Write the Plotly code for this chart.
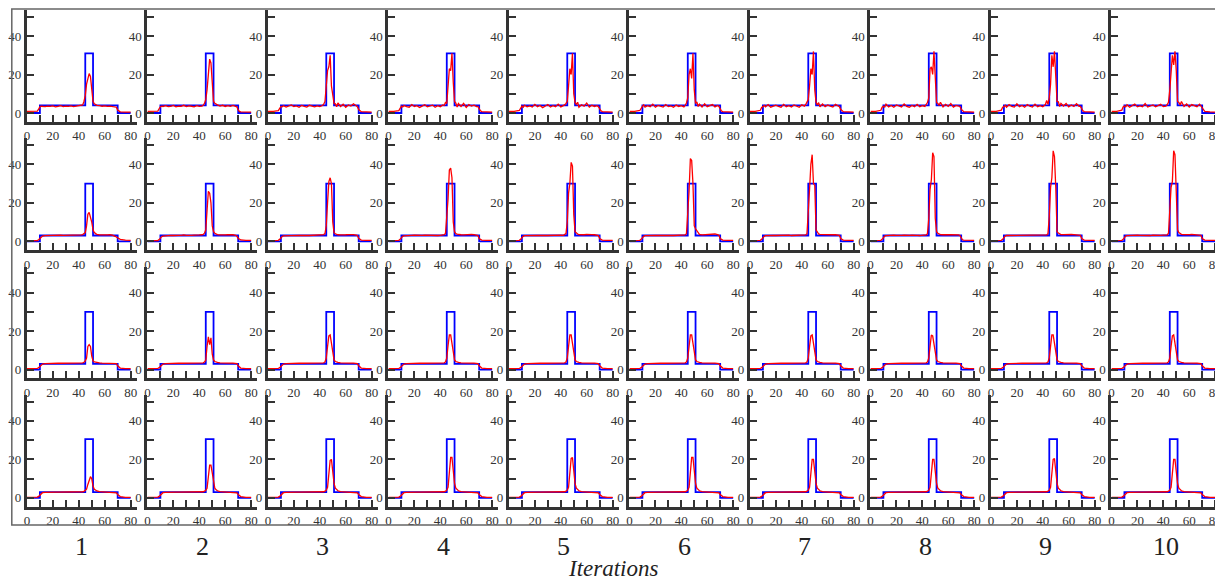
import plotly.graph_objects as go

# ---------------- data ----------------
X_RED = [0, 4, 8, 9, 10, 11, 12, 14, 16, 18, 20, 22, 24, 26, 28, 30, 32, 34, 36, 38, 40, 42, 43,
         44, 45, 46, 47, 48, 49, 50, 51, 52, 53, 54, 56, 58, 60, 62, 64, 66, 68, 69, 70, 71, 72, 76, 80]

BLUE_X = [0, 10, 10, 45, 45, 51, 51, 70, 70, 80]
BLUE_BASE = [4, 3, 3, 3]
BLUE_TOP = [31, 30, 30, 30.5]

RED_ROW1 = [
    [0.8,0.8,1,2,3.2,3.5,3.4,3.3,3.6,3.4,3.7,3.2,3.5,3.8,3.3,3.6,3.4,3.7,3.3,3.5,3.6,3.8,4.2,6,9,15,18,20.5,19,11,6,4.8,4.3,4,3.8,3.5,3.7,3.4,3.6,3.5,3.3,3,1.5,0.8,0.6,0.5,0.5],
    [0.8,0.8,1,2.2,3.3,3.6,3.4,3.8,3.3,3.5,3.9,3.2,3.6,3.4,4,3.3,3.7,3.5,3.2,3.8,3.4,3.6,4,5,7,12,22,28,26,12,6,5,4.5,4.2,3.6,4,3.4,3.8,3.5,3.9,3.4,3.2,1.6,0.8,0.6,0.5,0.5],
    [0.8,0.8,1.2,2.5,3.4,3.2,3.8,3.1,3.6,4.2,3.3,3.7,3,3.9,3.4,3.1,4,3.5,3.2,3.7,3.3,3.9,4.5,6,14,22,24,30,14,8,5,4.8,3.2,5.2,3.4,4.6,3,4.2,3.6,4.8,3.5,3.3,1.8,1,0.7,0.6,0.5],
    [0.8,0.8,1.2,2.6,3.5,3.1,3.9,3.3,3,4.4,3.4,3.8,2.9,3.6,4.3,3.2,3.5,4.1,3,3.8,3.3,4.2,3.9,5.5,5,14,23,22,31,16,6,5.2,3.1,4.9,3.4,5,2.9,4.4,3.6,4.1,3.3,3.4,2,1.1,0.7,0.6,0.5],
    [0.8,0.8,1.3,2.7,3.6,3,4,3.2,3.7,3.1,4.5,3.3,3.9,2.8,3.6,4.4,3.1,3.8,3.3,4.6,3.2,3.7,4.2,5,6,14,23,20,31,10,5.5,4.5,5.6,3,4.3,3.5,5.2,3.1,4,3.4,3.8,3.3,2,1.1,0.7,0.6,0.5],
    [0.8,0.8,1.3,2.8,3.4,4.2,3.1,3.8,3.3,4.6,3,3.9,3.5,3.1,4.4,3.3,3.7,3,4.1,3.4,3.8,3.2,4,5.2,8,20,23,18,31,12,5,5.8,3.4,4.6,3.1,4.8,3.3,3.7,4.4,3.2,3.9,3.4,1.9,1,0.7,0.6,0.5],
    [0.8,0.8,1.4,2.9,3.3,3.9,3.2,4.4,3,3.7,4.1,3.4,3,4.5,3.3,3.8,3.1,4.2,3.5,3,4.3,3.6,4.4,5.5,7,14,23,20,32,12,5.5,4.2,5.4,3.2,4.7,3.3,4.2,3.6,3.1,4.5,3.5,3.3,1.9,1,0.7,0.6,0.5],
    [0.8,0.8,1.4,3,3.5,3.1,4.6,3.2,3.9,3,4.2,3.6,3.1,4.7,3.4,3,3.9,3.3,4.5,3.2,3.8,3.4,4.3,5.4,8,23,24,20,32,14,5.5,5,4,5.6,3.2,4.5,3.4,4.9,3.1,3.9,3.6,3.4,2,1.1,0.7,0.6,0.5],
    [0.8,0.8,1.5,3,3.3,4,3,4.4,3.4,3.1,4.8,3.3,3.9,3,4.4,3.5,3.1,4.6,3.3,3.8,3.2,4.4,6.5,4.5,8,15,30,24,32,14,6,5.8,3.4,5,3.6,4.9,3.2,4.2,3.4,4.8,3.5,3.4,2,1.1,0.7,0.6,0.5],
    [0.8,0.8,1.5,3.1,3.6,3.2,4.3,3,3.8,4.6,3.2,3.7,3.3,4.9,3.1,3.6,4.2,3.2,3.9,4.5,3.3,3.6,4.4,5.5,12,24,30,25,32,22,6,5.5,4.2,6,3.4,4.7,3.1,4.4,3.7,3.3,4.6,3.6,2.2,1.2,0.8,0.6,0.5],
]

RED_ROW2 = [
    [0.3,0.3,0.4,0.8,1.6,2.3,2.7,2.9,3,3,3.1,3,3.1,3.2,3.1,3.1,3,3.1,3.1,3.2,3.2,3.3,3.5,3.8,4.5,8,14,15,13,10,6,4.5,4,3.6,3.3,3.2,3.1,3.3,3.4,3.2,2.6,2.2,1.8,1.3,1,0.6,0.5],
    [0.3,0.3,0.4,0.9,1.8,2.4,2.7,2.9,3,3.1,3,3.2,3.1,3.1,3.3,3.1,3,3.1,3.2,3.1,3.3,3.4,3.6,4.2,6,16,26,25,20,8,5,4.2,3.8,3.5,3.3,3.2,3.3,3.4,3.5,3.4,3.1,2.6,1.6,1,0.7,0.5,0.5],
    [0.3,0.3,0.5,1,2,2.5,2.8,2.9,3,3.1,3,3.2,3.1,3,3.2,3.1,3,3.1,3,3.2,3.1,3.3,3.5,4,8,20,31,33,30,10,4.5,3.9,3.6,3.4,3.3,3.2,3.4,3.5,3.6,3.5,3.2,3,1.5,0.8,0.6,0.5,0.5],
    [0.3,0.3,0.5,1,2,2.6,2.8,3,3,3.1,3.2,3.1,3,3.1,3.2,3.1,3,3.2,3.1,3,3.1,3.2,3.4,4,12,22,37,38,33,10,5,4,3.7,3.5,3.4,3.3,3.5,3.7,3.6,3.5,3.2,3,1.4,0.8,0.6,0.5,0.5],
    [0.3,0.3,0.5,1,2,2.6,2.9,3,3.1,3,3.2,3.1,3,3.2,3.1,3,3.1,3.2,3,3.1,3.2,3.1,3.4,4,10,25,30,41,39,14,5,4.2,3.8,3.5,3.4,3.4,3.6,3.7,3.5,3.4,3.3,3,1.4,0.8,0.6,0.5,0.5],
    [0.3,0.3,0.5,1,2,2.6,2.9,3,3.1,3.2,3.1,3,3.2,3.1,3,3.2,3.1,3,3.1,3.2,3,3.1,3.3,4,14,26,43,42,30,8,6.5,5.5,4,3.6,3.3,3.4,3.5,3.4,3.6,3.8,3.5,3.2,1.4,0.8,0.6,0.5,0.5],
    [0.3,0.3,0.5,1,2,2.6,2.9,3,3.2,3.1,3,3.1,3.2,3,3.1,3.2,3,3.1,3.2,3,3.1,3.2,3.3,4,14,27,40,45,30,29,6,4.5,3.8,3.6,3.5,3.4,3.5,3.5,3.4,3.4,3.3,3.1,1.4,0.8,0.6,0.5,0.5],
    [0.3,0.3,0.5,1,2,2.7,2.9,3.1,3,3.2,3.1,3,3.1,3.2,3,3.1,3.2,3,3.1,3,3.2,3.1,3.3,4,12,27,32,46,44,12,5,4.2,3.7,3.5,3.4,3.3,3.4,3.5,3.5,3.4,3.3,3,1.4,0.8,0.6,0.5,0.5],
    [0.3,0.3,0.5,1,2,2.7,3,3,3.1,3.1,3.2,3,3.1,3.1,3.2,3,3.1,3.2,3.1,3,3.1,3.2,3.3,4,13,28,33,47,44,28,5,4.3,3.8,3.5,3.5,3.6,3.8,3.6,3.5,3.4,3.4,3.1,1.4,0.8,0.6,0.5,0.5],
    [0.3,0.3,0.5,1,2,2.7,3,3.1,3,3.1,3.2,3.1,3,3.2,3.1,3,3.2,3.1,3,3.1,3.2,3.1,3.3,4.2,14,28,31,47,45,26,6,4.5,3.9,3.6,3.5,3.4,3.5,3.6,3.5,3.4,3.3,3.1,1.4,0.8,0.6,0.5,0.5],
]

RED_ROW3 = [
    [0.5,0.5,0.6,1,1.8,2.5,2.9,3.1,3.2,3.2,3.3,3.3,3.3,3.3,3.3,3.3,3.3,3.3,3.3,3.3,3.3,3.4,3.5,3.8,4.5,6,12,13,12,7,4.5,4,3.8,3.6,3.5,3.4,3.4,3.4,3.4,3.4,3.3,3.1,2,1.2,0.8,0.5,0.5],
    [0.5,0.5,0.6,1,1.8,2.5,2.9,3.1,3.2,3.2,3.3,3.3,3.3,3.3,3.3,3.3,3.3,3.3,3.3,3.3,3.3,3.4,3.5,3.9,5,12,17,13,16.5,8,5,4.2,3.9,3.7,3.5,3.4,3.4,3.4,3.4,3.4,3.3,3.1,2,1.2,0.8,0.5,0.5],
    [0.5,0.5,0.6,1,1.8,2.5,2.9,3.1,3.2,3.2,3.3,3.3,3.3,3.3,3.3,3.3,3.3,3.3,3.3,3.3,3.3,3.4,3.5,4,6,12,17.5,18,13.5,8,5,4.2,3.9,3.7,3.5,3.4,3.4,3.4,3.4,3.4,3.3,3.1,2,1.2,0.8,0.5,0.5],
    [0.5,0.5,0.6,1,1.8,2.5,2.9,3.1,3.2,3.2,3.3,3.3,3.3,3.3,3.3,3.3,3.3,3.3,3.3,3.3,3.3,3.4,3.5,4,6,12.5,18,18,13,7.5,5,4.2,3.9,3.7,3.5,3.4,3.4,3.4,3.4,3.4,3.3,3.1,2,1.2,0.8,0.5,0.5],
    [0.5,0.5,0.6,1,1.8,2.5,2.9,3.1,3.2,3.2,3.3,3.3,3.3,3.3,3.3,3.3,3.3,3.3,3.3,3.3,3.3,3.4,3.5,4,6,12,18,18,13.5,7.5,5,4.2,3.9,3.7,3.5,3.4,3.4,3.4,3.4,3.4,3.3,3.1,2,1.2,0.8,0.5,0.5],
    [0.5,0.5,0.6,1,1.8,2.5,2.9,3.1,3.2,3.2,3.3,3.3,3.3,3.3,3.3,3.3,3.3,3.3,3.3,3.3,3.3,3.4,3.5,4,6,12,18,18,13,7.5,5,4.2,3.9,3.7,3.5,3.4,3.4,3.4,3.4,3.4,3.3,3.1,2,1.2,0.8,0.5,0.5],
    [0.5,0.5,0.6,1,1.8,2.5,2.9,3.1,3.2,3.2,3.3,3.3,3.3,3.3,3.3,3.3,3.3,3.3,3.3,3.3,3.3,3.4,3.5,4,6,12,17.5,18,13,7.5,5,4.2,3.9,3.7,3.5,3.4,3.4,3.4,3.4,3.4,3.3,3.1,2,1.2,0.8,0.5,0.5],
    [0.5,0.5,0.6,1,1.8,2.5,2.9,3.1,3.2,3.2,3.3,3.3,3.3,3.3,3.3,3.3,3.3,3.3,3.3,3.3,3.3,3.4,3.5,4,6,12,18,17.5,13,7.5,5,4.2,3.9,3.7,3.5,3.4,3.4,3.4,3.4,3.4,3.3,3.1,2,1.2,0.8,0.5,0.5],
    [0.5,0.5,0.6,1,1.8,2.5,2.9,3.1,3.2,3.2,3.3,3.3,3.3,3.3,3.3,3.3,3.3,3.3,3.3,3.3,3.3,3.4,3.5,4,6,12,18,18,13.5,7.5,5,4.2,3.9,3.7,3.5,3.4,3.4,3.4,3.4,3.4,3.3,3.1,2,1.2,0.8,0.5,0.5],
    [0.5,0.5,0.6,1,1.8,2.5,2.9,3.1,3.2,3.2,3.3,3.3,3.3,3.3,3.3,3.3,3.3,3.3,3.3,3.3,3.3,3.4,3.5,4,6,12,17.5,18,13,7.5,5,4.2,3.9,3.7,3.5,3.4,3.4,3.4,3.4,3.4,3.3,3.1,2,1.2,0.8,0.5,0.5],
]

RED_ROW4 = [
    [0.3,0.3,0.4,0.8,1.6,2.3,2.7,2.9,3,3,3,3,3,3,3,3,3,3,3,3,3,3.1,3.2,3.4,3.8,4.5,7,9.5,11,10,6,4.5,4,3.6,3.3,3.2,3.1,3.1,3,3,2.9,2.6,1.8,1.1,0.7,0.3,0.3],
    [0.3,0.3,0.4,0.8,1.6,2.3,2.7,2.9,3,3,3,3,3,3,3,3,3,3,3,3,3,3.1,3.2,3.5,4,5,10,17,17,12.5,7,5,4.2,3.7,3.3,3.2,3.1,3.1,3,3,2.9,2.6,1.8,1.1,0.7,0.3,0.3],
    [0.3,0.3,0.4,0.8,1.6,2.3,2.7,2.9,3,3,3,3,3,3,3,3,3,3,3,3,3,3.1,3.2,3.5,4,5.5,11,19.5,20,13,7.5,5,4.2,3.7,3.3,3.2,3.1,3.1,3,3,2.9,2.6,1.8,1.1,0.7,0.3,0.3],
    [0.3,0.3,0.4,0.8,1.6,2.3,2.7,2.9,3,3,3,3,3,3,3,3,3,3,3,3,3,3.1,3.2,3.5,4,5.5,12,21,21,13,7.5,5,4.2,3.7,3.3,3.2,3.1,3.1,3,3,2.9,2.6,1.8,1.1,0.7,0.3,0.3],
    [0.3,0.3,0.4,0.8,1.6,2.3,2.7,2.9,3,3,3,3,3,3,3,3,3,3,3,3,3,3.1,3.2,3.5,4,5.5,12,20.5,21,13,7.5,5,4.2,3.7,3.3,3.2,3.1,3.1,3,3,2.9,2.6,1.8,1.1,0.7,0.3,0.3],
    [0.3,0.3,0.4,0.8,1.6,2.3,2.7,2.9,3,3,3,3,3,3,3,3,3,3,3,3,3,3.1,3.2,3.5,4,5.5,12,21,21,13,7.5,5,4.2,3.7,3.3,3.2,3.1,3.1,3,3,2.9,2.6,1.8,1.1,0.7,0.3,0.3],
    [0.3,0.3,0.4,0.8,1.6,2.3,2.7,2.9,3,3,3,3,3,3,3,3,3,3,3,3,3,3.1,3.2,3.5,4,5.5,12,20,20,13,7.5,5,4.2,3.7,3.3,3.2,3.1,3.1,3,3,2.9,2.6,1.8,1.1,0.7,0.3,0.3],
    [0.3,0.3,0.4,0.8,1.6,2.3,2.7,2.9,3,3,3,3,3,3,3,3,3,3,3,3,3,3.1,3.2,3.5,4,5.5,12,20,20,13,7.5,5,4.2,3.7,3.3,3.2,3.1,3.1,3,3,2.9,2.6,1.8,1.1,0.7,0.3,0.3],
    [0.3,0.3,0.4,0.8,1.6,2.3,2.7,2.9,3,3,3,3,3,3,3,3,3,3,3,3,3,3.1,3.2,3.5,4,5.5,12,20,20.5,13,7.5,5,4.2,3.7,3.3,3.2,3.1,3.1,3,3,2.9,2.6,1.8,1.1,0.7,0.3,0.3],
    [0.3,0.3,0.4,0.8,1.6,2.3,2.7,2.9,3,3,3,3,3,3,3,3,3,3,3,3,3,3.1,3.2,3.5,4,5.5,12,20,20,14,7.5,5,4.2,3.7,3.3,3.2,3.1,3.1,3,3,2.9,2.6,1.8,1.1,0.7,0.3,0.3],
]

ITER_LABELS = ["1", "2", "3", "4", "5", "6", "7", "8", "9", "10"]
X_TICKS = [0, 10, 20, 30, 40, 50, 60, 70, 80]
X_TICKTEXT = ["0", "", "20", "", "40", "", "60", "", "80"]
Y_TICKS = [0, 10, 20, 30, 40, 50]
Y_TICKTEXT = ["0", "", "20", "", "40", ""]
X_TITLE = "Iterations"

# ---------------- layout geometry (page pixels) ----------------
# the html page body has an 8px margin, so the figure is offset by 8px
OFF = 8
PAGE_W, PAGE_H = 1223, 581
W, H = PAGE_W - OFF, PAGE_H - OFF


def px(x):
    return (x - OFF) / W


def py(y):
    return 1 - (y - OFF) / H


COL0, COL_STEP, PANEL_W = 24, 120.9, 110
X_RANGE = [0, 84.6]
ROW0, ROW_STEP = 113, 128.3
PX_PER_Y = 1.925
Y_RANGE = [-4.5, 53.5]

FONT = "Liberation Serif"
AX_COL = "#333333"

rows = [RED_ROW1, RED_ROW2, RED_ROW3, RED_ROW4]
fig = go.Figure()
layout = {}

for r in range(4):
    y0pix = ROW0 + ROW_STEP * r
    bot = y0pix - Y_RANGE[0] * PX_PER_Y
    top = y0pix - Y_RANGE[1] * PX_PER_Y
    ydom = [py(bot), py(top)]
    b, t = BLUE_BASE[r], BLUE_TOP[r]
    blue_y = [0, 0, b, b, t, t, b, b, 0, 0]
    for c in range(10):
        k = r * 10 + c + 1
        xa = "x" if k == 1 else f"x{k}"
        ya = "y" if k == 1 else f"y{k}"
        left = COL0 + COL_STEP * c
        xdom = [px(left), min(1.0, px(left + PANEL_W))]
        fig.add_trace(go.Scatter(x=BLUE_X, y=blue_y, mode="lines",
                                 line=dict(color="#0000ff", width=1.8),
                                 xaxis=xa, yaxis=ya, hoverinfo="skip"))
        fig.add_trace(go.Scatter(x=X_RED, y=rows[r][c], mode="lines",
                                 line=dict(color="#ff0000", width=1.3),
                                 xaxis=xa, yaxis=ya, hoverinfo="skip"))
        common = dict(showline=True, linecolor=AX_COL, linewidth=3,
                      ticks="inside", ticklen=7, tickwidth=2, tickcolor=AX_COL,
                      showgrid=False, zeroline=False, fixedrange=True,
                      tickfont=dict(family=FONT, size=13, color=AX_COL))
        layout["xaxis" if k == 1 else f"xaxis{k}"] = dict(
            domain=xdom, anchor=ya, range=X_RANGE, tickmode="array",
            tickvals=X_TICKS, ticktext=X_TICKTEXT, **common)
        layout["yaxis" if k == 1 else f"yaxis{k}"] = dict(
            domain=ydom, anchor=xa, range=Y_RANGE, tickmode="array",
            tickvals=Y_TICKS, ticktext=Y_TICKTEXT, **common)

annotations = []
for c, lab in enumerate(ITER_LABELS):
    cx = px(COL0 + COL_STEP * c + PANEL_W / 2)
    annotations.append(dict(text=lab, x=cx, y=py(546), xref="paper", yref="paper",
                            showarrow=False, xanchor="center", yanchor="middle",
                            font=dict(family=FONT, size=26, color="#222222")))
annotations.append(dict(text="<i>" + X_TITLE + "</i>", x=px(612), y=py(568),
                        xref="paper", yref="paper", showarrow=False,
                        xanchor="center", yanchor="middle",
                        font=dict(family=FONT, size=23, color="#222222")))

shapes = [dict(type="rect", xref="paper", yref="paper",
               x0=px(8.8), x1=px(1221.5), y0=py(525), y1=py(9),
               line=dict(color="#666666", width=1.5), fillcolor="rgba(0,0,0,0)")]

fig.update_layout(width=W, height=H, margin=dict(l=0, r=0, t=0, b=0),
                  paper_bgcolor="white", plot_bgcolor="white",
                  showlegend=False, annotations=annotations, shapes=shapes,
                  **layout)

fig.write_html("out.html")
